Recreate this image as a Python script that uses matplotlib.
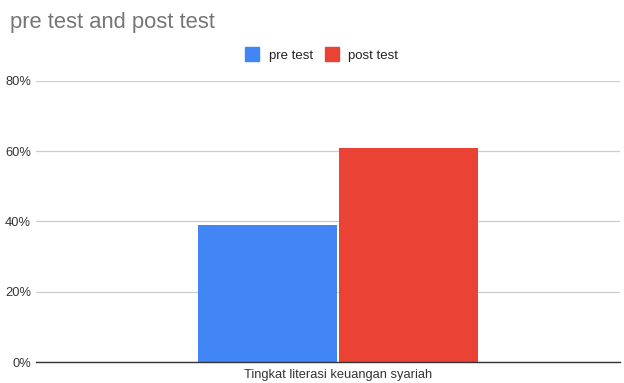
import matplotlib.pyplot as plt
from matplotlib.lines import Line2D

# data
categories = ["Tingkat literasi keuangan syariah"]
series_names = ["pre test", "post test"]
pre_test = [0.39]
post_test = [0.61]
y_ticks = [0, 0.2, 0.4, 0.6, 0.8]
colors = ["#4285F4", "#EA4335"]

plt.rcParams['font.family'] = ['Liberation Sans', 'DejaVu Sans']

fig = plt.figure(figsize=(6.24, 3.83), dpi=100)
ax = fig.add_axes([36 / 624, 0.0548, 584 / 624, 0.734])

w = 0.48
x = list(range(len(categories)))
ax.bar([i - w / 2 - 0.005 for i in x], pre_test, width=w, color=colors[0], zorder=3)
ax.bar([i + w / 2 + 0.005 for i in x], post_test, width=w, color=colors[1], zorder=3)

ax.set_xlim(-1.043, 0.974)
ax.set_ylim(0, 0.8)
ax.set_yticks(y_ticks)
ax.set_yticklabels([f"{int(round(t * 100))}%" for t in y_ticks])
ax.set_xticks(x)
ax.set_xticklabels(categories)
ax.tick_params(axis='both', length=0, labelsize=9.3, colors='#333333')
ax.tick_params(axis='x', pad=5)
ax.tick_params(axis='y', pad=3.5)
ax.grid(axis='y', color='#cccccc', linewidth=0.9, zorder=0)
for s in ['top', 'right', 'left']:
    ax.spines[s].set_visible(False)
ax.spines['bottom'].set_color('#333333')
ax.spines['bottom'].set_linewidth(1.0)
ax.spines['bottom'].set_zorder(4)

fig.text(0.016, 0.94, "pre test and post test", fontsize=15.8, color='#757575', va='center')

handles = [Line2D([], [], marker='s', linestyle='none', markersize=10,
                  markerfacecolor=c, markeredgecolor=c) for c in colors]
fig.legend(handles, series_names, loc='center', bbox_to_anchor=(0.516, 0.855),
           ncol=2, frameon=False, fontsize=9.5, handlelength=1.0, handletextpad=0.75,
           columnspacing=0.9, labelcolor='#222222')

fig.savefig("out.png", dpi=100)
